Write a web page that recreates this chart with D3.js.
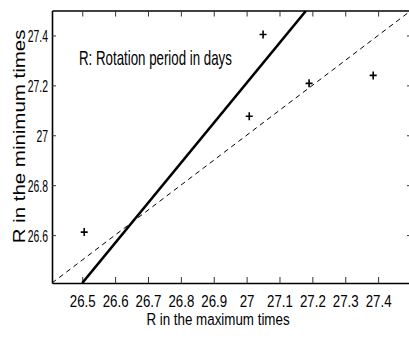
<!DOCTYPE html>
<html><head><meta charset="utf-8">
<script src="https://cdn.jsdelivr.net/npm/d3@7"></script>
<style>
html,body{margin:0;padding:0;background:#fff;overflow:hidden;}
text{font-family:"Liberation Sans",Arial,sans-serif;fill:#000;}
</style></head>
<body><svg id="c" width="409" height="339"></svg>
<script>
// Data
const rMax = [26.506, 27.008, 27.05, 27.19, 27.385];
const rMin = [26.612, 27.076, 27.404, 27.208, 27.24];
const fitX = [26.5, 27.18];
const fitY = [26.408, 27.498];
const idX = [26.408, 27.5];
const idY = [26.408, 27.5];
const xTicks = [26.5, 26.6, 26.7, 26.8, 26.9, 27, 27.1, 27.2, 27.3, 27.4];
const yTicks = [26.6, 26.8, 27, 27.2, 27.4];
const xLabel = "R in the maximum times";
const yLabel = "R in the minimum times";
const note = "R: Rotation period in days";

const L = 52, R = 411, T = 10.5, B = 283;
const svg = d3.select("#c");
const x = d3.scaleLinear().domain([26.408, 27.5]).range([L, R]);
const y = d3.scaleLinear().domain([26.408, 27.5]).range([B, T]);
const fmt = d => String(d);

svg.append("defs").append("clipPath").attr("id", "clip")
  .append("rect").attr("x", L).attr("y", T).attr("width", R - L).attr("height", B - T);

// Axes with inward ticks
const gB = svg.append("g").attr("transform", `translate(0,${B})`)
  .call(d3.axisBottom(x).tickValues(xTicks).tickFormat(fmt).tickSize(-6).tickSizeOuter(0));
const gT = svg.append("g").attr("transform", `translate(0,${T})`)
  .call(d3.axisTop(x).tickValues(xTicks).tickFormat("").tickSize(-6).tickSizeOuter(0));
const gL = svg.append("g").attr("transform", `translate(${L},0)`)
  .call(d3.axisLeft(y).tickValues(yTicks).tickFormat(fmt).tickSize(-4).tickSizeOuter(0));
const gR = svg.append("g").attr("transform", `translate(${R},0)`)
  .call(d3.axisRight(y).tickValues(yTicks).tickFormat("").tickSize(-4).tickSizeOuter(0));

[gB, gT, gL, gR].forEach(g => {
  g.select(".domain").attr("stroke", "#000").attr("stroke-width", 1.6);
  g.selectAll(".tick line").attr("stroke", "#333").attr("stroke-width", 1);
});

gB.selectAll(".tick text")
  .attr("y", null).attr("dy", null)
  .attr("font-size", 16)
  .attr("transform", "translate(0,23.5) scale(0.83,1)")
  .attr("text-anchor", "middle");
gL.selectAll(".tick text")
  .attr("x", null).attr("dy", null)
  .attr("font-size", 16.5)
  .attr("transform", "translate(-4,6) scale(0.63,1)")
  .attr("text-anchor", "end");

// reference line y = x (dashed)
const line = d3.line().x(d => x(d[0])).y(d => y(d[1]));
svg.append("path").attr("clip-path", "url(#clip)")
  .attr("d", line(d3.zip(idX, idY)))
  .attr("fill", "none").attr("stroke", "#000").attr("stroke-width", 1)
  .attr("stroke-dasharray", "5,4");
// fitted line (solid)
svg.append("path").attr("clip-path", "url(#clip)")
  .attr("d", line(d3.zip(fitX, fitY)))
  .attr("fill", "none").attr("stroke", "#000").attr("stroke-width", 2.6);

// plus markers
const pts = d3.zip(rMax, rMin);
const m = svg.append("g");
pts.forEach(p => {
  const cx = x(p[0]), cy = y(p[1]);
  m.append("path")
    .attr("d", `M${cx - 3.5},${cy}H${cx + 3.5}M${cx},${cy - 4}V${cy + 4}`)
    .attr("stroke", "#000").attr("stroke-width", 1.6).attr("fill", "none");
});

// labels
svg.append("text").text(xLabel).attr("font-size", 16.5)
  .attr("text-anchor", "middle")
  .attr("transform", `translate(218,324.5) scale(0.81,1)`);
svg.append("text").text(yLabel).attr("font-size", 16)
  .attr("text-anchor", "middle")
  .attr("transform", `translate(25,136.5) rotate(-90) scale(1.28,1)`);
svg.append("text").text(note).attr("font-size", 20)
  .attr("text-anchor", "start")
  .attr("transform", `translate(79,64.5) scale(0.665,1)`);
</script></body></html>
